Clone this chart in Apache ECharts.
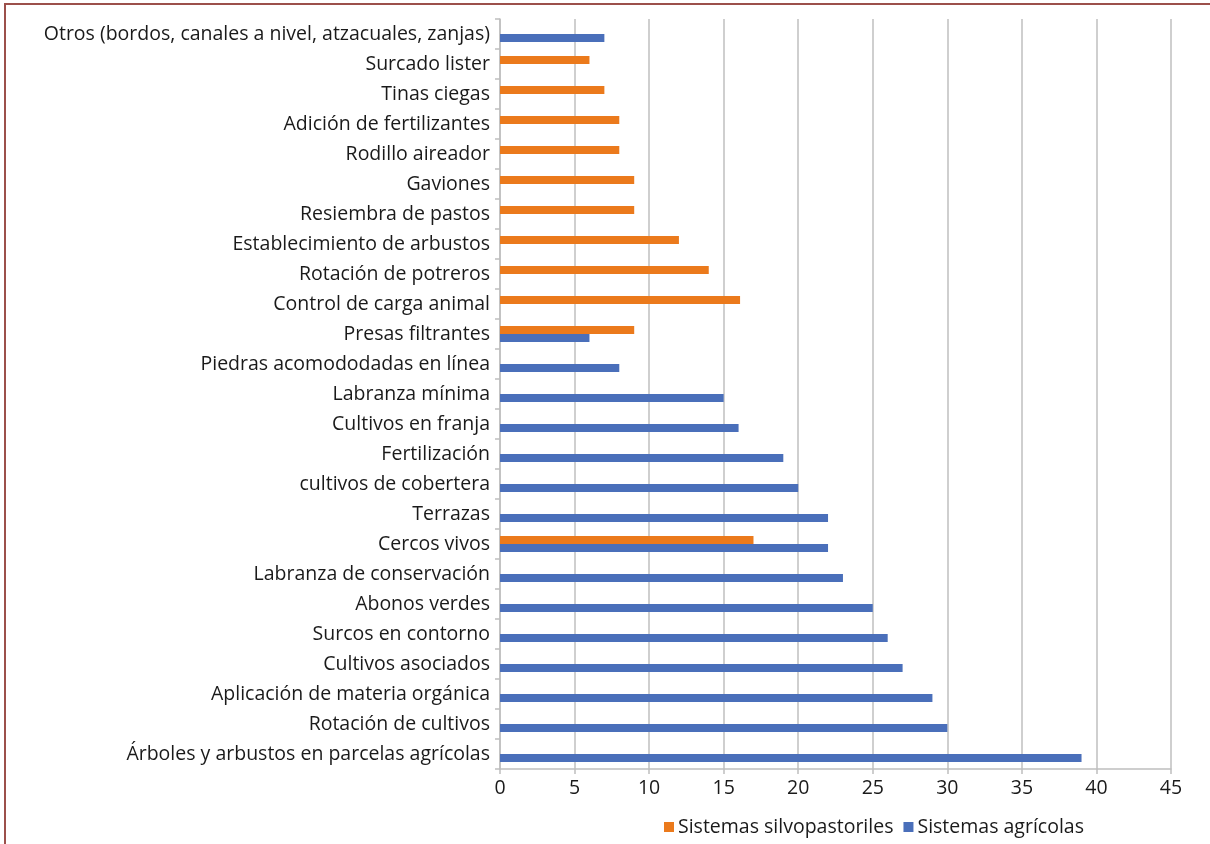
<!DOCTYPE html>
<html>
<head>
<meta charset="utf-8">
<script src="https://cdn.jsdelivr.net/npm/echarts@6/dist/echarts.min.js"></script>
<style>
  html, body { margin: 0; padding: 0; background: #fff; }
  #frame { position: absolute; left: 4px; top: 3px; width: 1220px; height: 860px; border: 2px solid #9c504b; box-sizing: border-box; }
  #chart { position: absolute; left: 0; top: 0; width: 1210px; height: 844px; }
</style>
</head>
<body>
<div id="frame"></div>
<div id="chart"></div>
<script>
// categorías de abajo hacia arriba
var categorias = [
    "Árboles y arbustos en parcelas agrícolas",
    "Rotación de cultivos",
    "Aplicación de materia orgánica",
    "Cultivos asociados",
    "Surcos en contorno",
    "Abonos verdes",
    "Labranza de conservación",
    "Cercos vivos",
    "Terrazas",
    "cultivos de cobertera",
    "Fertilización",
    "Cultivos en franja",
    "Labranza mínima",
    "Piedras acomododadas en línea",
    "Presas filtrantes",
    "Control de carga animal",
    "Rotación de potreros",
    "Establecimiento de arbustos",
    "Resiembra de pastos",
    "Gaviones",
    "Rodillo aireador",
    "Adición de fertilizantes",
    "Tinas ciegas",
    "Surcado lister",
    "Otros (bordos, canales a nivel, atzacuales, zanjas)"
];
var agricolas = [39, 30, 29, 27, 26, 25, 23, 22, 22, 20, 19, 16, 15, 8, 6,
    null, null, null, null, null, null, null, null, null, 7];
var silvopastoriles = [null, null, null, null, null, null, null, 17, null, null, null, null, null, null, 9,
    16.1, 14, 12, 9, 9, 8, 8, 7, 6, null];
var ticksX = { min: 0, max: 45, interval: 5 };

var chart = echarts.init(document.getElementById("chart"));
var fuente = "Open Sans";
var tam = 19.5;
var option = {
    animation: false,
    textStyle: { fontFamily: fuente },
    grid: { left: 500, right: 39, top: 19, bottom: 75, containLabel: false },
    legend: {
        data: ["Sistemas silvopastoriles", "Sistemas agrícolas"],
        left: 659,
        top: 812,
        icon: "rect",
        itemWidth: 10,
        itemHeight: 10,
        itemGap: 10,
        textStyle: { fontSize: tam, color: "#1a1a1a", fontFamily: fuente, padding: [0, 0, 0, -1] }
    },
    xAxis: {
        type: "value",
        min: ticksX.min,
        max: ticksX.max,
        interval: ticksX.interval,
        axisLine: { show: true, lineStyle: { color: "#bfbfbf", width: 1.5 } },
        axisTick: { show: true, length: 5, lineStyle: { color: "#bfbfbf", width: 1.5 } },
        axisLabel: { fontSize: tam, color: "#1a1a1a", margin: 9, fontFamily: fuente },
        splitLine: { show: true, lineStyle: { color: "#bfbfbf", width: 1.5 } }
    },
    yAxis: {
        type: "category",
        data: categorias,
        axisLine: { show: true, lineStyle: { color: "#bfbfbf", width: 1.5 } },
        axisTick: { show: true, length: 5, lineStyle: { color: "#bfbfbf", width: 1.5 } },
        axisLabel: { fontSize: tam, color: "#1a1a1a", margin: 10, fontFamily: fuente },
        splitLine: { show: false }
    },
    series: [
        {
            name: "Sistemas silvopastoriles",
            type: "bar",
            data: silvopastoriles,
            barWidth: 8,
            barGap: "0%",
            itemStyle: { color: "#eb7a1c" }
        },
        {
            name: "Sistemas agrícolas",
            type: "bar",
            data: agricolas,
            barWidth: 8,
            barGap: "0%",
            itemStyle: { color: "#4a6fba" }
        }
    ]
};
chart.setOption(option);
</script>
</body>
</html>
